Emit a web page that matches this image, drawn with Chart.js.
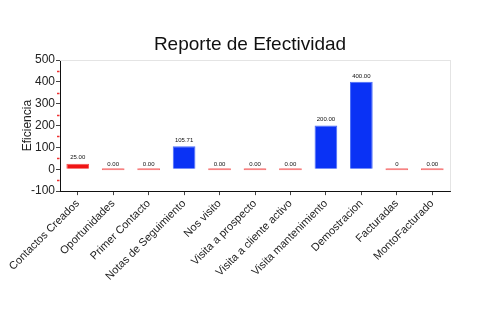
<!DOCTYPE html>
<html>
<head>
<meta charset="utf-8">
<script src="https://cdn.jsdelivr.net/npm/chart.js@4.4.0/dist/chart.umd.min.js"></script>
<style>
  html, body { margin: 0; padding: 0; background: #fff; }
  #wrap { width: 500px; height: 330px; }
</style>
</head>
<body>
<div id="wrap"><canvas id="chart-area"></canvas></div>
<script>
"use strict";

var categorias = ['Contactos Creados', 'Oportunidades', 'Primer Contacto', 'Notas de Seguimiento',
    'Nos visito', 'Visita a prospecto', 'Visita a cliente activo', 'Visita mantenimiento',
    'Demostracion', 'Facturadas', 'MontoFacturado'];
var valores = [25, 0, 0, 105.71, 0, 0, 0, 200, 400, 0, 0];
var etiquetas = ['25.00', '0.00', '0.00', '105.71', '0.00', '0.00', '0.00', '200.00', '400.00', '0', '0.00'];
var marcasMenores = [450, 350, 250, 150, 50, -50];
var titulo = 'Reporte de Efectividad';

var fuente = "'Liberation Sans', Arial, sans-serif";

function colorBarra(v) {
    if (v >= 100) return '#0a32f5';
    if (v > 0) return '#f01515';
    return '#f56a6a';
}
function bordeBarra(v) {
    if (v >= 100) return '#4a6cf7';
    if (v > 0) return '#f45050';
    return '#f56a6a';
}

// titulo centrado, bordes del area, marcas rojas del eje y, valor sobre cada barra
var extras = {
    id: 'extras',
    afterDatasetsDraw: function(chart) {
        var ctx = chart.ctx;
        var area = chart.chartArea;
        var y = chart.scales.y;
        ctx.save();

        ctx.fillStyle = '#111';
        ctx.font = "19px " + fuente;
        ctx.textAlign = 'center';
        ctx.textBaseline = 'alphabetic';
        ctx.fillText(titulo, chart.width / 2, 50);

        ctx.strokeStyle = '#e4e4e4';
        ctx.lineWidth = 1;
        ctx.beginPath();
        ctx.moveTo(area.left, area.top + 0.5);
        ctx.lineTo(area.right, area.top + 0.5);
        ctx.moveTo(area.right + 0.5, area.top);
        ctx.lineTo(area.right + 0.5, area.bottom);
        ctx.stroke();

        ctx.strokeStyle = '#f03030';
        ctx.lineWidth = 1.5;
        ctx.beginPath();
        marcasMenores.forEach(function(m) {
            var py = Math.round(y.getPixelForValue(m)) + 0.5;
            ctx.moveTo(area.left - 3, py);
            ctx.lineTo(area.left - 0.5, py);
        });
        ctx.stroke();

        ctx.fillStyle = '#111';
        ctx.font = "6px " + fuente;
        ctx.textAlign = 'center';
        ctx.textBaseline = 'bottom';
        chart.getDatasetMeta(0).data.forEach(function(bar, i) {
            ctx.fillText(etiquetas[i], bar.x, bar.y - 3);
        });
        ctx.restore();
    }
};

var config = {
    type: 'bar',
    data: {
        labels: categorias,
        datasets: [{
            data: valores,
            backgroundColor: valores.map(colorBarra),
            borderColor: valores.map(bordeBarra),
            borderWidth: 1,
            minBarLength: 2,
            categoryPercentage: 0.8,
            barPercentage: 0.8
        }]
    },
    options: {
        responsive: false,
        animation: false,
        layout: { padding: { top: 60, right: 50, left: 20, bottom: 45 } },
        plugins: {
            legend: { display: false },
            tooltip: { enabled: false },
            title: { display: false }
        },
        scales: {
            x: {
                grid: { color: 'transparent', tickColor: '#444', tickLength: 4, offset: false },
                border: { color: '#111', width: 1 },
                ticks: {
                    autoSkip: false, maxRotation: 45, minRotation: 45,
                    color: '#222', padding: 2,
                    font: { family: fuente, size: 11 }
                }
            },
            y: {
                min: -100, max: 500,
                afterFit: function(scale) { scale.width = 40; },
                grid: { color: 'transparent', tickColor: '#444', tickLength: 4 },
                border: { color: '#111', width: 1 },
                ticks: {
                    stepSize: 100, color: '#222', padding: 1,
                    font: { family: fuente, size: 12 }
                },
                title: {
                    display: true, text: 'Eficiencia', color: '#222',
                    font: { family: fuente, size: 12 }, padding: 0
                }
            }
        }
    },
    plugins: [extras]
};

var canvas = document.getElementById('chart-area');
canvas.width = 500;
canvas.height = 330;
window.myBar = new Chart(canvas.getContext('2d'), config);
</script>
</body>
</html>
